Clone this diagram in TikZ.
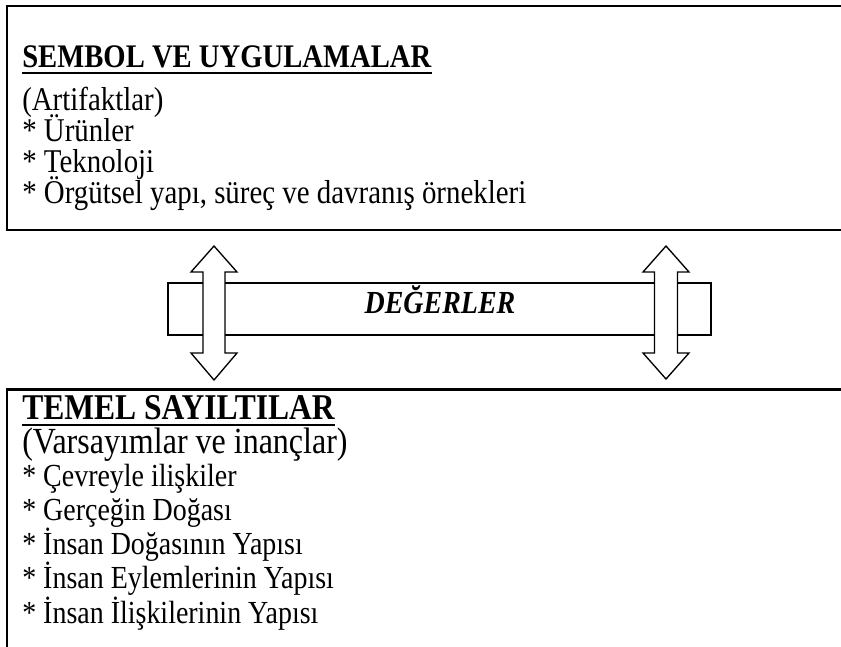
\documentclass[tikz,border=0pt]{standalone}
\usepackage{fontspec}
\setmainfont{Liberation Serif}[FakeStretch=0.87]
\begin{document}
\begin{tikzpicture}[x=0.75pt,y=0.75pt,yscale=-1,xscale=1,
  itemtext/.style={anchor=base west,inner sep=0pt,font=\fontsize{#1}{30}\selectfont},
  itemtext/.default=24.9,
  headtext/.style={anchor=base west,inner sep=0pt,text depth=4pt,font=\fontsize{#1}{30}\selectfont\bfseries},
  headtext/.default=24.7,
  blockarrow/.style={line width=1pt,fill=white,line join=miter}]
\useasboundingbox (0,0) rectangle (841,646);

%Shape: Top box (runs off the right edge)
\draw [line width=1.5pt]  (845,6) -- (7,6) -- (7,230) -- (845,230) ;
%Shape: Bottom box (runs off the right and bottom edges)
\draw [line width=1.5pt]  (7,650) -- (7,389) ;
\draw [line width=2.25pt]  (6,389) -- (845,389) ;
%Shape: Rectangle for the values band
\draw [line width=1.2pt]  (168,283) rectangle (711,335) ;
%Shape: Up-Down Arrow, left
\draw [blockarrow]  (214,246) -- (237,272) -- (225,272) -- (225,353) -- (237,353) -- (214,380) -- (191,353) -- (203,353) -- (203,272) -- (191,272) -- cycle ;
%Shape: Up-Down Arrow, right
\draw [blockarrow]  (666,246) -- (689,272) -- (677.5,272) -- (677.5,353) -- (689,353) -- (666,379) -- (643,353) -- (654.5,353) -- (654.5,272) -- (643,272) -- cycle ;

% Text Node
\node [headtext] (sembol) at (22,67) {SEMBOL VE UYGULAMALAR};
\draw [line width=1.5pt]  (sembol.south west) -- (sembol.south east) ;
% Text Node
\node [itemtext] (artifakt) at (22,110) {(Artifaktlar)};
% Text Node
\node [itemtext] (urunler) at (22,141) {* Ürünler};
% Text Node
\node [itemtext] (teknoloji) at (22,172) {* Teknoloji};
% Text Node
\node [itemtext] (orgutsel) at (22,203) {* Örgütsel yapı, süreç ve davranış örnekleri};

% Text Node
\node [anchor=base,inner sep=0pt,font=\fontsize{24.1}{28}\selectfont\bfseries\itshape] (degerler) at (440,313) {DEĞERLER};

% Text Node
\node [headtext=27.2] (temel) at (22,419) {TEMEL SAYILTILAR};
\draw [line width=1.5pt]  (temel.south west) -- (temel.south east) ;
% Text Node
\node [itemtext=27.6] (varsayim) at (22,453) {(Varsayımlar ve inançlar)};
% Text Node
\node [itemtext=24.1] (cevre) at (22,486) {* Çevreyle ilişkiler};
% Text Node
\node [itemtext=24.1] (gercek) at (22,520) {* Gerçeğin Doğası};
% Text Node
\node [itemtext=24.1] (dogasi) at (22,554) {* İnsan Doğasının Yapısı};
% Text Node
\node [itemtext=24.1] (eylem) at (22,588) {* İnsan Eylemlerinin Yapısı};
% Text Node
\node [itemtext=24.1] (iliski) at (22,623) {* İnsan İlişkilerinin Yapısı};

\end{tikzpicture}
\end{document}
